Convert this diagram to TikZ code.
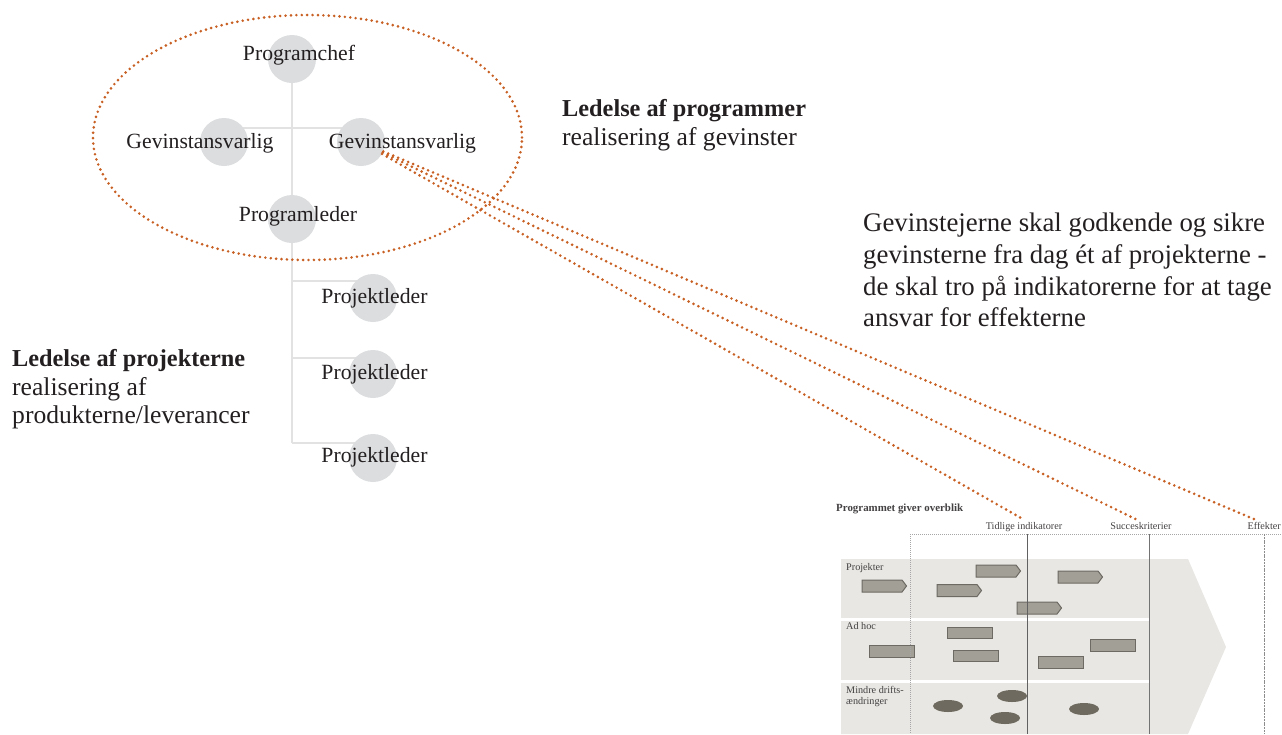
\documentclass[tikz,border=0pt]{standalone}
\usepackage{fontspec}
\setmainfont{Liberation Serif}
\usetikzlibrary{shapes.geometric,backgrounds,calc}
\definecolor{orng}{RGB}{200,96,36}
\definecolor{circ}{RGB}{220,221,223}
\definecolor{conn}{RGB}{226,226,226}
\definecolor{txt}{RGB}{35,31,32}
\definecolor{band}{RGB}{232,231,227}
\definecolor{barfill}{RGB}{161,159,150}
\definecolor{barline}{RGB}{108,106,98}
\definecolor{ovalfill}{RGB}{110,106,95}
\newcommand\arrbar[3]{\draw[barsty] (#2,#3) -- ++(40,0) -- ++(4.5,6) -- ++(-4.5,6) -- ++(-40,0) -- cycle; \coordinate (#1) at (#2,#3);}
\newcommand\recbar[3]{\draw[barsty] (#2,#3) rectangle ++(45,11.5); \coordinate (#1) at (#2,#3);}
\newcommand\ovl[3]{\fill[ovalfill] (#2,#3) ellipse [x radius=15pt, y radius=6pt]; \coordinate (#1) at (#2,#3);}
\begin{document}
\begin{tikzpicture}[x=1pt,y=-1pt,
  role/.style={circle, fill=circ, minimum size=48pt, inner sep=0pt},
  orgtxt/.style={font=\fontsize{21.7}{26}\selectfont, text=txt, inner sep=0pt, anchor=base},
  headb/.style={font=\fontsize{24.3}{29}\selectfont\bfseries, text=txt, inner sep=0pt, anchor=base west},
  headr/.style={font=\fontsize{25.6}{29}\selectfont, text=txt, inner sep=0pt, anchor=base west},
  note/.style={font=\fontsize{26.8}{31}\selectfont, text=txt, inner sep=0pt, anchor=base west},
  smallb/.style={font=\fontsize{10.9}{12}\selectfont\bfseries, text=txt!85, inner sep=0pt, anchor=base west},
  smallr/.style={font=\fontsize{10.2}{12}\selectfont, text=txt!85, inner sep=0pt},
  tree/.style={draw=conn, line width=2pt},
  link/.style={draw=orng, line width=2.9pt, dash pattern=on 0pt off 5.4pt, line cap=round},
  barsty/.style={fill=barfill, draw=barline, line width=1pt},
]
\useasboundingbox (0,0) rectangle (1282,734);

% ---------- org chart ----------
\node[role] (pc) at (292,59) {};
\node[role] (gl) at (224,142) {};
\node[role] (gr) at (361,142) {};
\node[role] (pl) at (292,219) {};
\node[role] (pj1) at (373,298) {};
\node[role] (pj2) at (373,374) {};
\node[role] (pj3) at (373,458) {};

\coordinate (hb) at (292,128);
\coordinate (b1) at (292,281);
\coordinate (b2) at (292,358);
\coordinate (b3) at (292,443);

\begin{pgfonlayer}{background}
  \draw[tree] (pc.center) -- (pl.center);
  \draw[tree] (pl.center) -- (b3);
  \draw[tree] (gl.center |- hb) -- (gr.center |- hb);
  \draw[tree] (b1) -- (b1 -| pj1.center);
  \draw[tree] (b2) -- (b2 -| pj2.center);
  \draw[tree] (b3) -- (b3 -| pj3.center);
\end{pgfonlayer}

\node[orgtxt] (tpc) at (299,60.7) {Programchef};
\node[orgtxt] (tgl) at (200,148) {Gevinstansvarlig};
\node[orgtxt] (tgr) at (402.5,148) {Gevinstansvarlig};
\node[orgtxt] (tpl) at (298,221) {Programleder};
\node[orgtxt] (tpj1) at (374.5,303.3) {Projektleder};
\node[orgtxt] (tpj2) at (374.5,379.3) {Projektleder};
\node[orgtxt] (tpj3) at (374.5,462.7) {Projektleder};

\node[ellipse, minimum width=429pt, minimum height=245pt, inner sep=0pt, link] (grp) at (307.5,137.5) {};

% ---------- side texts ----------
\node[headb] (lp1) at (562,116) {Ledelse af programmer};
\node[headr] (lp2) at (562,145) {realisering af gevinster};

\node[note] (n1) at (863,231.7) {Gevinstejerne skal godkende og sikre};
\node[note] (n2) at (863,263.3) {gevinsterne fra dag ét af projekterne -};
\node[note] (n3) at (863,295) {de skal tro på indikatorerne for at tage};
\node[note] (n4) at (863,326.5) {ansvar for effekterne};

\node[headb] (lj1) at (12,366) {Ledelse af projekterne};
\node[headr] (lj2) at (12,395) {realisering af};
\node[headr] (lj3) at (12,423) {produkterne/leverancer};

% ---------- overview panel ----------
\node[smallb] (pt) at (836,511) {Programmet giver overblik};
\node[smallr, anchor=base] (c1) at (1024,529) {Tidlige indikatorer};
\node[smallr, anchor=base] (c2) at (1141,529) {Succeskriterier};
\node[smallr, anchor=base east] (c3) at (1281,529) {Effekter};

\fill[band] (841,559) -- (1188,559) -- (1226,647) -- (1188,734) -- (841,734) -- cycle;
\draw[white, line width=3pt] (841,619.3) -- (1149,619.3);
\draw[white, line width=3pt] (841,681.5) -- (1149,681.5);

\node[smallr, anchor=base west] (r1) at (846,570) {Projekter};
\node[smallr, anchor=base west] (r2) at (846,629.5) {Ad hoc};
\node[smallr, anchor=base west] (r3a) at (846,693) {Mindre drifts-};
\node[smallr, anchor=base west] (r3b) at (846,704.5) {ændringer};

\arrbar{p1}{862}{580}
\arrbar{p2}{976}{565}
\arrbar{p3}{937}{584.5}
\arrbar{p4}{1017}{602}
\arrbar{p5}{1058}{571}

\recbar{a1}{947}{627}
\recbar{a2}{869}{645.5}
\recbar{a3}{953}{650}
\recbar{a4}{1038}{656.5}
\recbar{a5}{1090}{639.5}

\ovl{o1}{948}{706}
\ovl{o2}{1012}{696}
\ovl{o3}{1005}{718}
\ovl{o4}{1084}{709}

\coordinate (hl) at (910,534);
\coordinate (hr) at (1282,534);
\draw[black!35, line width=0.8pt, dash pattern=on 1pt off 1pt] (hl) -- (hr);
\draw[black!35, line width=0.8pt, dash pattern=on 1pt off 1pt] (hl) -- (910,734);
\draw[black!62, line width=0.9pt] (1027,534) -- (1027,734);
\draw[black!55, line width=0.9pt] (1149,534) -- (1149,734);
\draw[black!45, line width=0.9pt, dash pattern=on 2pt off 0.8pt] (1264,534) -- (1264,734);

% ---------- links ----------
\draw[link] (gr) -- ([yshift=2pt]c1.north);
\draw[link] (gr) -- ([xshift=-4pt,yshift=2pt]c2.north);
\draw[link] (gr) -- ([xshift=-9pt,yshift=2pt]c3.north);
\end{tikzpicture}
\end{document}
